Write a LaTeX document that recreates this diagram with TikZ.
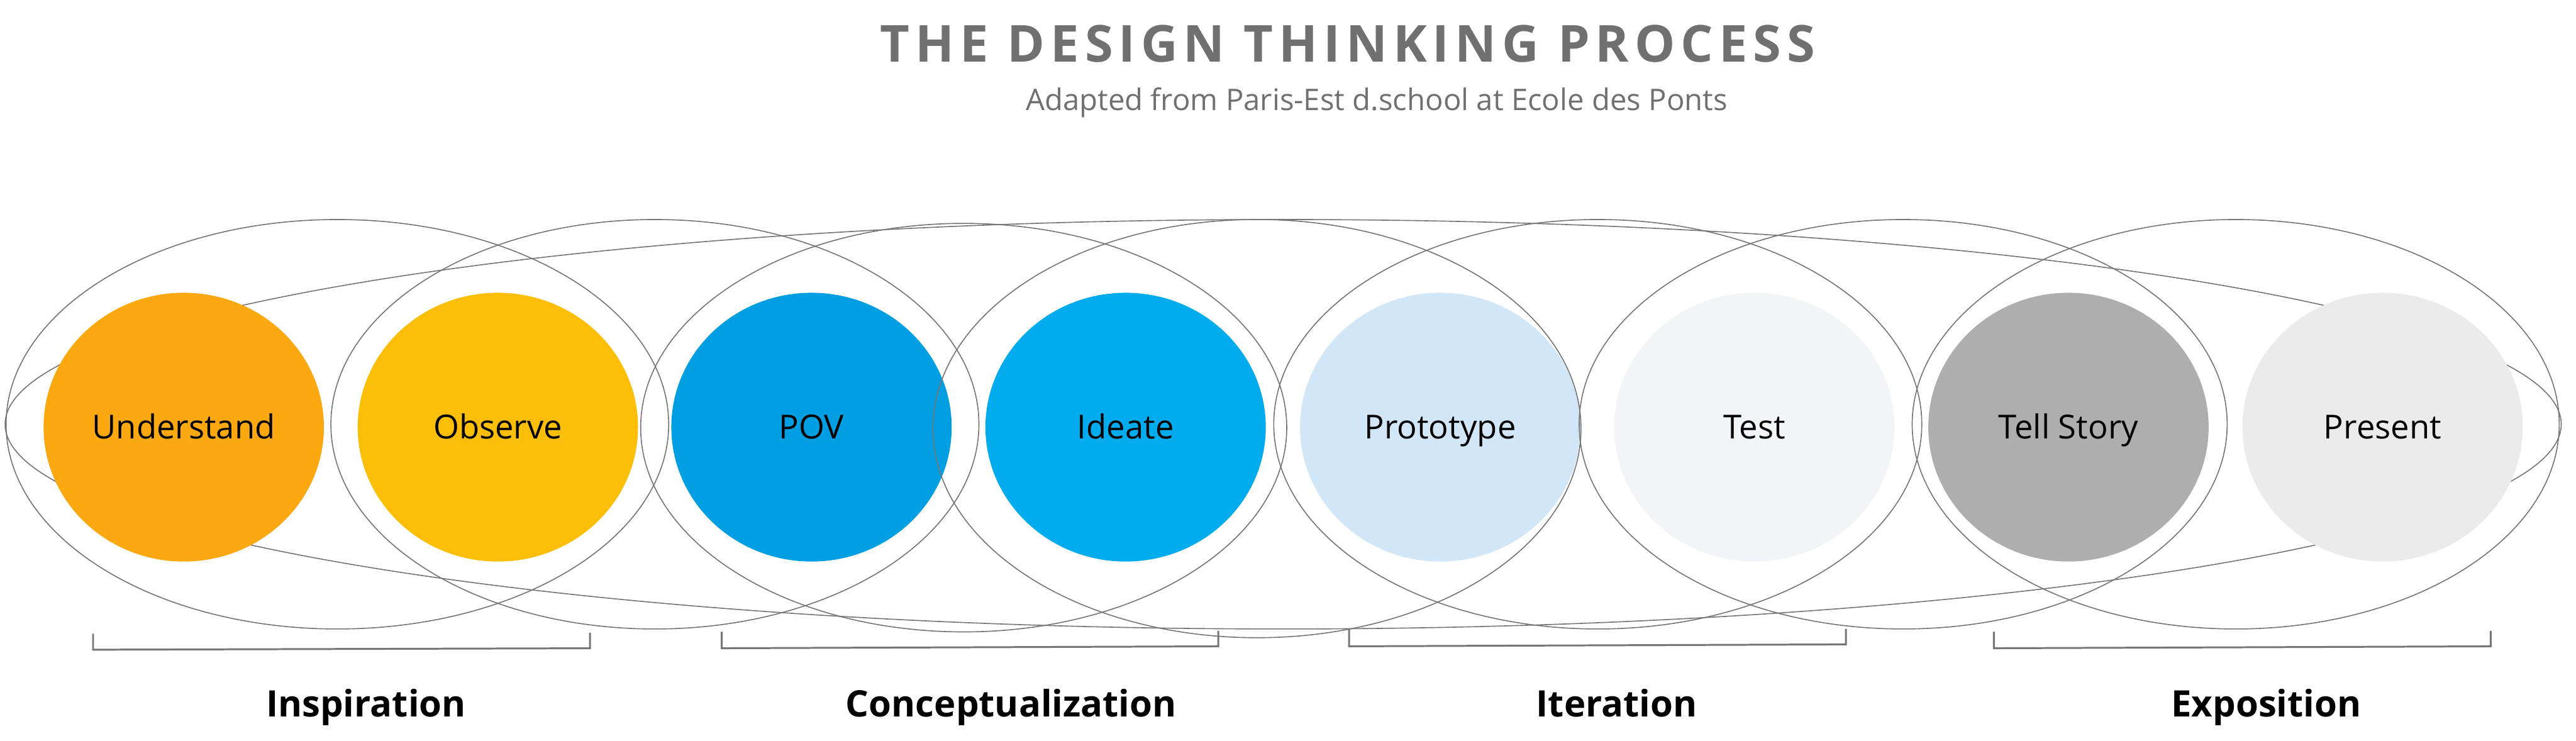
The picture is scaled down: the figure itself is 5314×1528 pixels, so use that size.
\documentclass[tikz,border=0pt]{standalone}
\usepackage{fontspec}
\setmainfont{Open Sans}
\newfontfamily\titlefont[LetterSpace=11]{Open Sans}
\usetikzlibrary{shapes.geometric}
\definecolor{cUnd}{HTML}{FCA811}
\definecolor{cObs}{HTML}{FDBE07}
\definecolor{cPov}{HTML}{009FE3}
\definecolor{cIde}{HTML}{00ABEE}
\definecolor{cPro}{HTML}{D1E6F6}
\definecolor{cTes}{HTML}{F2F4F8}
\definecolor{cTel}{HTML}{AEAEAE}
\definecolor{cPre}{HTML}{EBEBEB}
\definecolor{lineg}{HTML}{767676}
\definecolor{titleg}{HTML}{707070}
\begin{document}
\begin{tikzpicture}[x=0.01cm,y=-0.01cm,
  phase/.style={ellipse, minimum width=5.78cm, minimum height=5.54cm, inner sep=0pt,
    draw=none, font=\fontsize{19.4}{22}\selectfont, text height=13.9pt, text depth=0pt},
  ring/.style={draw=lineg, line width=0.6pt},
  bracket/.style={draw=lineg, line width=1.1pt},
  grp/.style={font=\bfseries\fontsize{21.4}{26}\selectfont, anchor=base}]
\fill[white] (0,0) rectangle (5314,1528);
\useasboundingbox (0,0) rectangle (5314,1528);
% title
\node[font=\titlefont\bfseries\fontsize{29.9}{34}\selectfont, text=titleg, anchor=base, inner sep=0pt] (title) at (2780,128) {THE DESIGN THINKING PROCESS};
\node[font=\fontsize{17.45}{20}\selectfont, text=titleg, anchor=base, inner sep=0pt] (sub) at (2840,228) {Adapted from Paris-Est d.school at Ecole des Ponts};
% big lens
\draw[ring] (2647,875) ellipse [x radius=26.35cm, y radius=4.22cm];
% phases
\node[phase, fill=cUnd] (und) at (379,881) {Understand};
\node[phase, fill=cObs] (obs) at (1027,881) {Observe};
\node[phase, fill=cPov] (pov) at (1674,881) {POV};
\node[phase, fill=cIde] (ide) at (2322,881) {Ideate};
\node[phase, fill=cPro] (pro) at (2971,881) {Prototype};
\node[phase, fill=cTes] (tes) at (3619,881) {Test};
\node[phase, fill=cTel] (tel) at (4267,881) {Tell Story};
\node[phase, fill=cPre] (pre) at (4915,881) {Present};
% rings
\draw[ring] (696,875) ellipse [x radius=6.83cm, y radius=4.22cm];
\draw[ring] (1351,875) ellipse [x radius=6.68cm, y radius=4.22cm];
\draw[ring] (1988,882) ellipse [x radius=6.66cm, y radius=4.21cm];
\draw[ring] (2593,884) ellipse [x radius=6.68cm, y radius=4.31cm];
\draw[ring] (3296,875) ellipse [x radius=6.68cm, y radius=4.22cm];
\draw[ring] (3926,875) ellipse [x radius=6.68cm, y radius=4.22cm];
\draw[ring] (4612,875) ellipse [x radius=6.67cm, y radius=4.22cm];
% brackets
\draw[bracket] (192,1307) -- (192,1340) -- (1217,1337) -- (1217,1305);
\draw[bracket] (1489,1303) -- (1489,1337) -- (2513,1333) -- (2513,1301);
\draw[bracket] (2783,1297) -- (2783,1333) -- (3808,1329) -- (3808,1297);
\draw[bracket] (4113,1303) -- (4113,1337) -- (5138,1333) -- (5138,1301);
% group labels
\node[grp] (g1) at (755,1478) {Inspiration};
\node[grp] (g2) at (2086,1478) {Conceptualization};
\node[grp] (g3) at (3335,1478) {Iteration};
\node[grp] (g4) at (4675,1478) {Exposition};
\end{tikzpicture}
\end{document}
